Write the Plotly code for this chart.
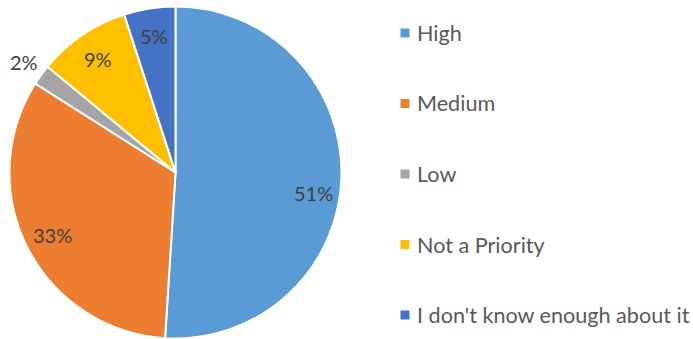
import math
import plotly.graph_objects as go

# Survey responses: priority level
categories = ["High", "Medium", "Low", "Not a Priority", "I don't know enough about it"]
shares = [51, 33, 2, 9, 5]
colors = ["#5B9BD5", "#ED7D31", "#A5A5A5", "#FFC000", "#4472C4"]

W, H = 693, 339
CX, CY, R = 175.5, 172.5, 166.0  # pie centre and radius in pixels
FONT = "Lato"

fig = go.Figure(
    go.Pie(
        labels=categories,
        values=shares,
        sort=False,
        direction="clockwise",
        rotation=0,
        marker=dict(colors=colors, line=dict(color="white", width=2)),
        textinfo="none",
        hoverinfo="label+percent",
        showlegend=False,
        domain=dict(x=[(CX - R) / W, (CX + R) / W],
                    y=[(H - CY - R) / H, (H - CY + R) / H]),
    )
)

# Percentage labels along each slice's bisector
total = sum(shares)
cum = 0.0
annotations = []
for name, v in zip(categories, shares):
    mid = (cum + v / 2) / total * 2 * math.pi
    cum += v
    frac = 1.13 if v / total < 0.03 else 0.83
    px = CX + frac * R * math.sin(mid)
    py = CY - frac * R * math.cos(mid)
    shift = -16 if v == max(shares) else 0
    annotations.append(dict(
        x=px / W, y=1 - py / H, xref="paper", yref="paper",
        text=f"{round(v / total * 100)}%", showarrow=False,
        xanchor="center", yanchor="middle", yshift=shift,
        font=dict(family=FONT, size=20, color="#404040"),
    ))

# Legend: coloured squares with category names
LEG_X, LEG_Y0, LEG_DY, SQ = 405, 33, 70.5, 9
shapes = []
for i, (name, c) in enumerate(zip(categories, colors)):
    y = LEG_Y0 + i * LEG_DY
    shapes.append(dict(
        type="rect", xref="paper", yref="paper",
        x0=(LEG_X - SQ / 2) / W, x1=(LEG_X + SQ / 2) / W,
        y0=1 - (y + SQ / 2) / H, y1=1 - (y - SQ / 2) / H,
        fillcolor=c, line=dict(width=0),
    ))
    annotations.append(dict(
        x=(LEG_X + 10) / W, y=1 - y / H, xref="paper", yref="paper",
        text=name, showarrow=False, xanchor="left", yanchor="middle",
        font=dict(family=FONT, size=21.6, color="#595959"),
    ))

fig.update_layout(
    width=W, height=H,
    margin=dict(l=0, r=0, t=0, b=0),
    paper_bgcolor="white", plot_bgcolor="white",
    annotations=annotations, shapes=shapes,
)

fig.write_html("out.html")
